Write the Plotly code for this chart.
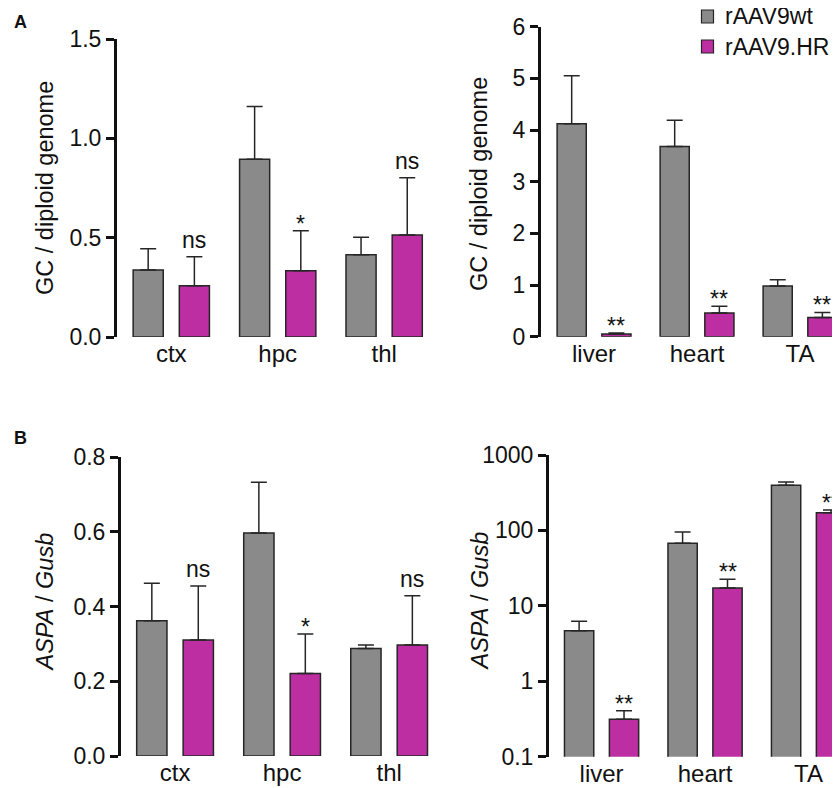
import plotly.graph_objects as go
import math

# The page body has an 8px default margin; positions below are in reference
# screen pixels and are converted into figure pixels by subtracting it.
BODY = 8
W, H = 840 - BODY, 788 - BODY

brain_regions = ["ctx", "hpc", "thl"]
periph_tissues = ["liver", "heart", "TA"]
series_names = ["rAAV9wt", "rAAV9.HR"]

# Panel A: GC / diploid genome
gc_brain_wt = [0.337, 0.895, 0.414]
gc_brain_wt_err = [0.107, 0.265, 0.088]
gc_brain_hr = [0.258, 0.334, 0.514]
gc_brain_hr_err = [0.146, 0.201, 0.288]
gc_brain_sig = ["ns", "*", "ns"]

gc_periph_wt = [4.12, 3.68, 0.98]
gc_periph_wt_err = [0.93, 0.51, 0.12]
gc_periph_hr = [0.05, 0.46, 0.37]
gc_periph_hr_err = [0.02, 0.13, 0.10]
gc_periph_sig = ["**", "**", "**"]

# Panel B: ASPA / Gusb
aspa_brain_wt = [0.362, 0.597, 0.288]
aspa_brain_wt_err = [0.101, 0.136, 0.009]
aspa_brain_hr = [0.311, 0.221, 0.297]
aspa_brain_hr_err = [0.144, 0.106, 0.132]
aspa_brain_sig = ["ns", "*", "ns"]

aspa_periph_wt = [4.69, 67.6, 398]
aspa_periph_wt_err = [1.56, 27.9, 42]
aspa_periph_hr = [0.313, 17.3, 172]
aspa_periph_hr_err = [0.094, 5.2, 15]
aspa_periph_sig = ["**", "**", "**"]

log_ticks = [0.1, 1, 10, 100, 1000]
log_ticktext = ["0.1", "1", "10", "100", "1000"]

GRAY = "#8a8a8a"
MAGENTA = "#bd2ea2"
EDGE = "#262626"
INK = "#111111"
FONT = "Liberation Sans, Arial, sans-serif"


def fx(px):
    return (px - BODY) / W


def fy(py):
    return 1 - (py - BODY) / H


fig = go.Figure()

panels = [
    ("1", brain_regions, gc_brain_wt, gc_brain_wt_err, gc_brain_hr, gc_brain_hr_err, gc_brain_sig,
     (117, 448), (39, 337), [-0.51, 2.6],
     dict(range=[0, 1.5], tickvals=[0, 0.5, 1.0, 1.5], ticktext=["0.0", "0.5", "1.0", "1.5"]),
     "GC / diploid genome", 45, 188, False),
    ("2", periph_tissues, gc_periph_wt, gc_periph_wt_err, gc_periph_hr, gc_periph_hr_err, gc_periph_sig,
     (541, 840), (26.7, 336.7), [-0.515, 2.388],
     dict(range=[0, 6], tickvals=[0, 1, 2, 3, 4, 5, 6]),
     "GC / diploid genome", 479, 184, False),
    ("3", brain_regions, aspa_brain_wt, aspa_brain_wt_err, aspa_brain_hr, aspa_brain_hr_err, aspa_brain_sig,
     (121, 448), (457.3, 756), [-0.505, 2.55],
     dict(range=[0, 0.8], tickvals=[0, 0.2, 0.4, 0.6, 0.8], ticktext=["0.0", "0.2", "0.4", "0.6", "0.8"]),
     "<i>ASPA</i> / <i>Gusb</i>", 44.5, 602, False),
    ("4", periph_tissues, aspa_periph_wt, aspa_periph_wt_err, aspa_periph_hr, aspa_periph_hr_err, aspa_periph_sig,
     (549, 840), (455, 756.7), [-0.508, 2.304],
     dict(type="log", range=[-1, 3], tickvals=log_ticks, ticktext=log_ticktext),
     "<i>ASPA</i> / <i>Gusb</i>", 479, 601.5, True),
]

layout_axes = {}
annotations = []
offset = 0.217
for (n, cats, wt, wte, hr, hre, sig, xd, yd, xr, yconf, ytitle, tx, ty, islog) in panels:
    xa = "x" if n == "1" else "x" + n
    ya = "y" if n == "1" else "y" + n
    for name, vals, errs, col in [(series_names[0], wt, wte, GRAY), (series_names[1], hr, hre, MAGENTA)]:
        fig.add_trace(go.Bar(
            x=cats, y=vals, name=name, xaxis=xa, yaxis=ya,
            marker=dict(color=col, line=dict(color=EDGE, width=1.5)),
            error_y=dict(type="data", symmetric=False, array=errs, arrayminus=[0] * len(errs),
                         color=EDGE, thickness=1.5, width=8),
            showlegend=False,
        ))
    xkey = "xaxis" if n == "1" else "xaxis" + n
    ykey = "yaxis" if n == "1" else "yaxis" + n
    layout_axes[xkey] = dict(domain=[fx(xd[0]), fx(xd[1])], range=xr, anchor=ya, showline=False,
                             ticks="", showgrid=False, zeroline=False, automargin=False,
                             tickfont=dict(size=24, color=INK, family=FONT), ticklabelstandoff=0)
    yk = dict(domain=[fy(yd[1]), fy(yd[0])], anchor=xa, showline=True, linecolor=INK, linewidth=3,
              ticks="outside", ticklen=8, tickwidth=2.5, tickcolor=INK,
              showgrid=False, zeroline=False, automargin=False,
              tickfont=dict(size=23, color=INK, family=FONT))
    yk.update(yconf)
    layout_axes[ykey] = yk
    annotations.append(dict(x=fx(tx), y=fy(ty), xref="paper", yref="paper", text=ytitle,
                            textangle=-90, showarrow=False, xanchor="center", yanchor="middle",
                            font=dict(size=23.5, color=INK, family=FONT)))
    for j, cat in enumerate(cats):
        top = hr[j] + hre[j]
        s = sig[j]
        annotations.append(dict(
            x=j + offset, y=(math.log10(top) if islog else top), xref=xa, yref=ya,
            text=s, showarrow=False, yanchor="bottom",
            yshift=(2 if s == "ns" else -8),
            font=dict(size=23, color=INK, family=FONT),
        ))

# Panel letters
for letter, ly in [("A", 21.5), ("B", 437.5)]:
    annotations.append(dict(x=fx(20), y=fy(ly), xref="paper", yref="paper", text="<b>" + letter + "</b>",
                            showarrow=False, xanchor="center", yanchor="middle",
                            font=dict(size=18, color=INK, family=FONT)))

# Legend (drawn as keys + labels)
shapes = []
for name, col, cy in [(series_names[0], GRAY, 16.5), (series_names[1], MAGENTA, 46.5)]:
    shapes.append(dict(type="rect", xref="paper", yref="paper",
                       x0=fx(701.5), x1=fx(713.5), y0=fy(cy + 6.5), y1=fy(cy - 6.5),
                       fillcolor=col, line=dict(color=EDGE, width=1.2)))
    annotations.append(dict(x=fx(723), y=fy(cy), xref="paper", yref="paper", text=name,
                            showarrow=False, xanchor="left", yanchor="middle",
                            font=dict(size=23, color=INK, family=FONT)))

fig.update_layout(
    width=W, height=H,
    margin=dict(l=0, r=0, t=0, b=0, autoexpand=False),
    paper_bgcolor="white", plot_bgcolor="white",
    barmode="group", bargap=0.132, bargroupgap=0.348,
    font=dict(family=FONT, color=INK),
    showlegend=False,
    annotations=annotations,
    shapes=shapes,
    **layout_axes,
)

fig.write_html("out.html")
